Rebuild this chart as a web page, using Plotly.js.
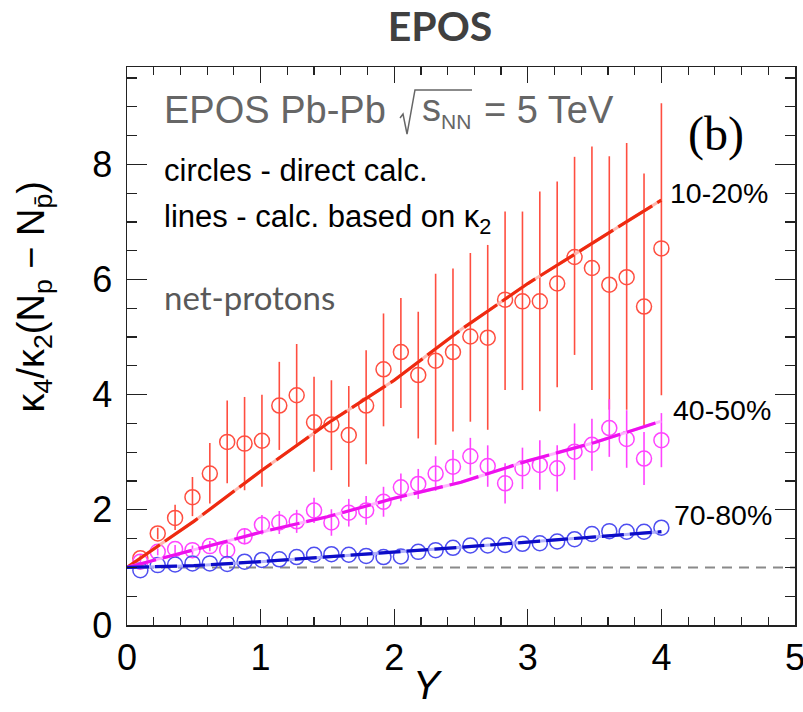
<!DOCTYPE html>
<html>
<head>
<meta charset="utf-8">
<script src="https://cdn.plot.ly/plotly-3.0.1.min.js"></script>
<style>
  html, body { margin: 0; padding: 0; background: #ffffff; }
  #chart { width: 803px; height: 712px; }
</style>
</head>
<body>
<div id="chart"></div>
<script>
// Rapidity window Y
const rapidity = [0.10, 0.23, 0.36, 0.49, 0.62, 0.75, 0.88, 1.01, 1.14, 1.27,
                  1.40, 1.53, 1.66, 1.79, 1.92, 2.05, 2.18, 2.31, 2.44, 2.57,
                  2.70, 2.83, 2.96, 3.09, 3.22, 3.35, 3.48, 3.61, 3.74, 3.87, 4.00];

// Direct calculation, centrality 10-20%
const central1020 = [1.16, 1.59, 1.86, 2.22, 2.63, 3.18, 3.15, 3.20, 3.81, 3.99,
                     3.52, 3.48, 3.30, 3.81, 4.44, 4.74, 4.34, 4.59, 4.74, 5.01,
                     4.99, 5.65, 5.62, 5.62, 5.93, 6.39, 6.20, 5.91, 6.04, 5.53, 6.54];
const err1020Up   = [0.05, 0.10, 0.23, 0.35, 0.53, 0.72, 0.81, 0.80, 0.76, 0.89,
                     0.79, 0.77, 0.85, 0.96, 0.97, 0.94, 1.10, 1.51, 1.45, 1.45,
                     1.61, 1.53, 1.56, 1.91, 1.77, 1.74, 2.11, 2.23, 2.33, 2.31, 2.52];
const err1020Down = [0.05, 0.10, 0.21, 0.33, 0.52, 0.72, 0.81, 0.80, 0.77, 0.89,
                     0.86, 0.79, 0.90, 1.02, 0.99, 0.97, 1.10, 1.46, 1.38, 1.48,
                     1.60, 1.57, 1.54, 1.91, 1.80, 1.70, 2.12, 2.17, 2.30, 2.08, 2.55];

// Direct calculation, centrality 40-50%
const central4050 = [1.10, 1.27, 1.32, 1.30, 1.37, 1.30, 1.54, 1.74, 1.78, 1.80,
                     1.99, 1.78, 1.95, 1.99, 2.14, 2.39, 2.45, 2.63, 2.75, 2.93,
                     2.76, 2.46, 2.72, 2.78, 2.72, 3.01, 3.13, 3.42, 3.23, 2.89, 3.21];
const err4050     = [0.05, 0.06, 0.07, 0.08, 0.09, 0.10, 0.14, 0.17, 0.20, 0.20,
                     0.22, 0.23, 0.24, 0.25, 0.26, 0.24, 0.26, 0.30, 0.29, 0.32,
                     0.36, 0.35, 0.36, 0.43, 0.40, 0.49, 0.45, 0.50, 0.50, 0.46, 0.47];

// Direct calculation, centrality 70-80%
const central7080 = [0.95, 1.04, 1.05, 1.07, 1.07, 1.06, 1.10, 1.13, 1.14, 1.18,
                     1.22, 1.23, 1.22, 1.20, 1.18, 1.19, 1.27, 1.30, 1.34, 1.38,
                     1.38, 1.39, 1.41, 1.42, 1.45, 1.49, 1.58, 1.63, 1.62, 1.62, 1.69];

// Calculation based on kappa_2
const calcY      = [0.0, 0.5, 1.0, 1.5, 2.0, 2.5, 3.0, 3.5, 4.0];
const calc1020   = [1.00, 1.80, 2.67, 3.50, 4.25, 5.13, 5.93, 6.65, 7.38];
const calc4050   = [1.00, 1.30, 1.61, 1.88, 2.20, 2.48, 2.85, 3.17, 3.54];
const calc7080   = [1.00, 1.03, 1.10, 1.18, 1.27, 1.35, 1.44, 1.53, 1.62];

// Poisson baseline
const baselineY   = [0, 5];
const baselineVal = [1, 1];

const centralityLabels = ['10-20%', '40-50%', '70-80%'];

const RED = '#ff4e40', RED_LINE = '#ee2a10', RED_PALE = 'rgba(255,175,165,0.9)';
const MAG = '#ff44ff', MAG_LINE = '#ee10ee', MAG_PALE = 'rgba(255,175,255,0.9)';
const BLU = '#4e4ef0', BLU_LINE = '#0c0cc8', BLU_PALE = 'rgba(170,170,250,0.9)';

function points(y, color, errUp, errDown) {
  const t = {
    x: rapidity, y: y, type: 'scatter', mode: 'markers',
    marker: { symbol: 'circle-open', size: 15, color: color, line: { width: 1.5, color: color } },
    hoverinfo: 'x+y'
  };
  if (errUp) {
    t.error_y = { type: 'data', symmetric: !errDown, array: errUp, arrayminus: errDown || errUp,
                  width: 0, thickness: 1.6, color: color };
  }
  return t;
}
// each calculated curve: a pale solid stroke with the saturated dashes on top
function calcLine(y, color, pale, dash) {
  return [
    { x: calcY, y: y, type: 'scatter', mode: 'lines',
      line: { color: pale, width: 3 }, hoverinfo: 'skip' },
    { x: calcY, y: y, type: 'scatter', mode: 'lines',
      line: { color: color, width: 3.2, dash: dash }, hoverinfo: 'x+y' }
  ];
}

const traces = [
  { x: baselineY, y: baselineVal, type: 'scatter', mode: 'lines',
    line: { color: '#8a8a8a', width: 2, dash: '10px,7px' }, hoverinfo: 'skip' },
  points(central1020, RED, err1020Up, err1020Down),
  points(central4050, MAG, err4050),
  points(central7080, BLU),
  ...calcLine(calc1020, RED_LINE, RED_PALE, '40px,6px'),
  ...calcLine(calc4050, MAG_LINE, MAG_PALE, '30px,7px'),
  ...calcLine(calc7080, BLU_LINE, BLU_PALE, '22px,6px')
];

const HELV = 'Liberation Sans, Arial, sans-serif';
const AX_FONT = { family: HELV, size: 36, color: '#000' };
const helv = (size, color) => ({ family: HELV, size: size, color: color || '#000' });

function note(text, x, y, font, extra) {
  return Object.assign({ text: text, x: x, y: y, xref: 'paper', yref: 'paper',
                         showarrow: false, xanchor: 'left', yanchor: 'middle', font: font }, extra || {});
}

const GRAY = '#666666';
const layout = {
  width: 803, height: 712,
  margin: { l: 127, r: 8, t: 67, b: 87, pad: 0 },
  paper_bgcolor: '#fff', plot_bgcolor: '#fff',
  showlegend: false,
  title: { text: '<b>EPOS</b>', x: 0.4686, xref: 'paper', xanchor: 'center',
           y: 0.962, yref: 'container', yanchor: 'middle',
           font: { family: 'Lato, Open Sans, sans-serif', size: 41, color: '#404040' } },
  xaxis: {
    range: [0, 5], dtick: 1, tick0: 0,
    ticks: 'inside', ticklen: 16, tickwidth: 1.3, tickcolor: '#222',
    minor: { dtick: 0.2, ticks: 'inside', ticklen: 8, tickwidth: 1.2, tickcolor: '#222' },
    showline: true, linecolor: '#222', linewidth: 1.5, mirror: 'allticks',
    showgrid: false, zeroline: false, tickfont: AX_FONT, ticklabelstandoff: 0,
    ticklabeloverflow: 'allow'
  },
  yaxis: {
    range: [0, 9.69], dtick: 2, tick0: 0,
    ticks: 'inside', ticklen: 20, tickwidth: 1.3, tickcolor: '#222',
    minor: { dtick: 0.5, ticks: 'inside', ticklen: 10, tickwidth: 1.2, tickcolor: '#222' },
    showline: true, linecolor: '#222', linewidth: 1.5, mirror: 'allticks',
    showgrid: false, zeroline: false, tickfont: AX_FONT, ticklabelstandoff: 6,
    ticklabeloverflow: 'allow'
  },
  shapes: [
    // square-root sign with its bar over s_NN
    { type: 'path', xref: 'paper', yref: 'paper',
      path: 'M0.4087,0.9086 L0.4132,0.9158 L0.4192,0.8799 L0.4311,0.9588 L0.5165,0.9588',
      line: { color: GRAY, width: 1.5 } }
  ],
  annotations: [
    note('EPOS Pb-Pb', 0.0524, 0.923, helv(38, GRAY)),
    note('s<sub><span style="font-size:21px">NN</span></sub>', 0.4386, 0.923, helv(38, GRAY)),
    note('= 5 TeV', 0.5314, 0.923, helv(38, GRAY)),
    note('circles - direct calc.', 0.0524, 0.814, helv(31)),
    note('lines - calc. based on κ<sub>2</sub>', 0.0524, 0.728, helv(31)),
    note('net-protons', 0.0524, 0.588, { family: 'Lato, Open Sans, sans-serif', size: 33, color: '#595959' }),
    note('(b)', 0.8817, 0.88, { family: 'Liberation Serif, Times New Roman, serif', size: 48, color: '#000' },
         { xanchor: 'center' }),
    note(centralityLabels[0], 0.8099, 0.774, helv(28.5)),
    note(centralityLabels[1], 0.8144, 0.385, helv(28.5)),
    note(centralityLabels[2], 0.8159, 0.197, helv(28.5)),
    note('<i>Y</i>', 0.4506, -0.108, helv(40), { xanchor: 'center' }),
    note('κ<sub>4</sub>/κ<sub>2</sub>(N<sub>p</sub> − N<sub>p\u0304</sub>)', -0.14, 0.588, helv(38),
         { xanchor: 'center', textangle: -90 })
  ]
};

Plotly.newPlot('chart', traces, layout, { staticPlot: true, displayModeBar: false });
</script>
</body>
</html>
